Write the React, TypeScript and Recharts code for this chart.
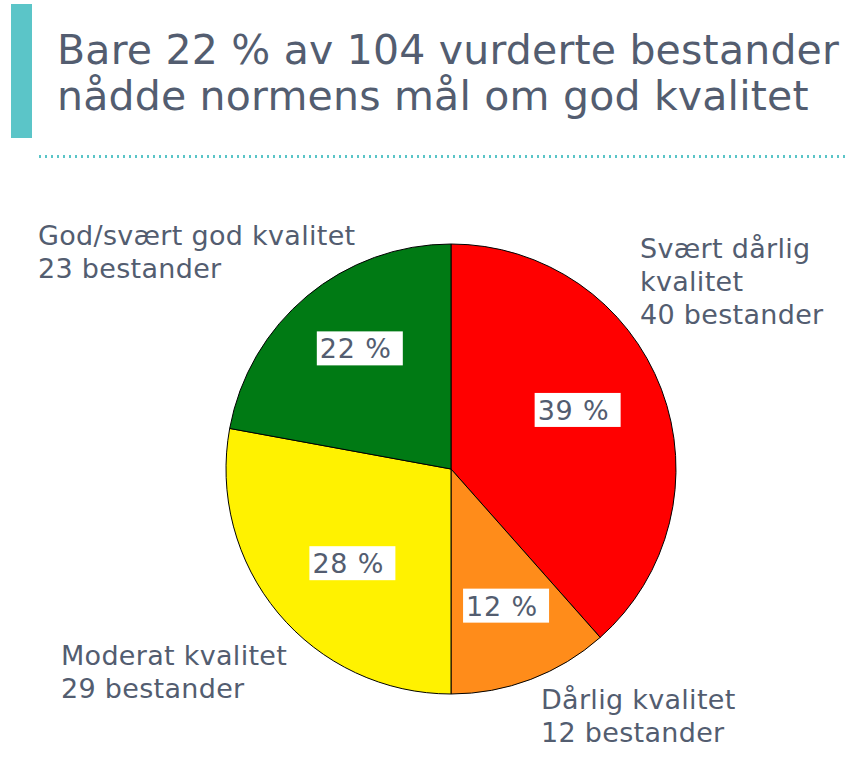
import { PieChart, Pie, Cell } from 'recharts'

const categories = ['Svært dårlig kvalitet', 'Dårlig kvalitet', 'Moderat kvalitet', 'God/svært god kvalitet']
const counts = [40, 12, 29, 23]
const percentLabels = ['39 %', '12 %', '28 %', '22 %']
const colors = ['#ff0000', '#ff8c1a', '#fff200', '#007a14']

const outerLabels = [
  { lines: ['Svært dårlig', 'kvalitet', '40 bestander'], left: 640, top: 232 },
  { lines: ['Dårlig kvalitet', '12 bestander'], left: 541, top: 683 },
  { lines: ['Moderat kvalitet', '29 bestander'], left: 61, top: 639 },
  { lines: ['God/svært god kvalitet', '23 bestander'], left: 38, top: 219 },
]

// small nudges so the boxes sit where PowerPoint put them
const labelNudge = [
  [-8, -8],
  [4, 2],
  [12, 2],
  [1, -10],
]

const data = categories.map((name, i) => ({ name, value: counts[i], pct: percentLabels[i] }))

const textColor = '#535d70'
const font = '"DejaVu Sans", Verdana, sans-serif'

const RADIAN = Math.PI / 180

function PctLabel(props: any) {
  const { cx, cy, midAngle, outerRadius, index } = props
  const r = outerRadius * 0.64
  const x = cx + r * Math.cos(-midAngle * RADIAN) + labelNudge[index][0]
  const y = cy + r * Math.sin(-midAngle * RADIAN) + labelNudge[index][1]
  const w = 86
  const h = 34
  return (
    <g>
      <rect x={x - w / 2} y={y - h / 2} width={w} height={h} fill="#fff" />
      <text x={x - w / 2 + 3} y={y + 10} fill={textColor} fontSize={27} letterSpacing={0.8} fontFamily={font}>
        {percentLabels[index]}
      </text>
    </g>
  )
}

export default function App() {
  return (
    <div style={{ position: 'absolute', left: 0, top: 0, width: 846, height: 769, background: '#fff', fontFamily: font, color: textColor }}>
      <div style={{ position: 'absolute', left: 11, top: 4, width: 21, height: 134, background: '#5bc5c8' }} />
      <div style={{ position: 'absolute', left: 57, top: 27, fontSize: 41, lineHeight: '46px', letterSpacing: 0.2, whiteSpace: 'nowrap' }}>
        Bare 22 % av 104 vurderte bestander
        <br />
        nådde normens mål om god kvalitet
      </div>
      <div
        style={{
          position: 'absolute',
          left: 37,
          top: 155,
          width: 809,
          height: 3,
          backgroundImage: 'radial-gradient(circle, #5bc5c8 1.3px, transparent 1.5px)',
          backgroundSize: '6px 3px',
        }}
      />
      <div style={{ position: 'absolute', left: 0, top: 0 }}>
        <PieChart width={846} height={769}>
          <Pie
            data={data}
            dataKey="value"
            cx={446}
            cy={464}
            outerRadius={225}
            startAngle={90}
            endAngle={-270}
            stroke="#000"
            strokeWidth={1}
            label={PctLabel}
            labelLine={false}
            isAnimationActive={false}
          >
            {data.map((d, i) => (
              <Cell key={d.name} fill={colors[i]} />
            ))}
          </Pie>
        </PieChart>
      </div>
      {outerLabels.map((l) => (
        <div key={l.lines.join()} style={{ position: 'absolute', left: l.left, top: l.top, fontSize: 27, lineHeight: '33px', letterSpacing: 0.3, whiteSpace: 'nowrap' }}>
          {l.lines.map((t) => (
            <div key={t}>{t}</div>
          ))}
        </div>
      ))}
    </div>
  )
}
